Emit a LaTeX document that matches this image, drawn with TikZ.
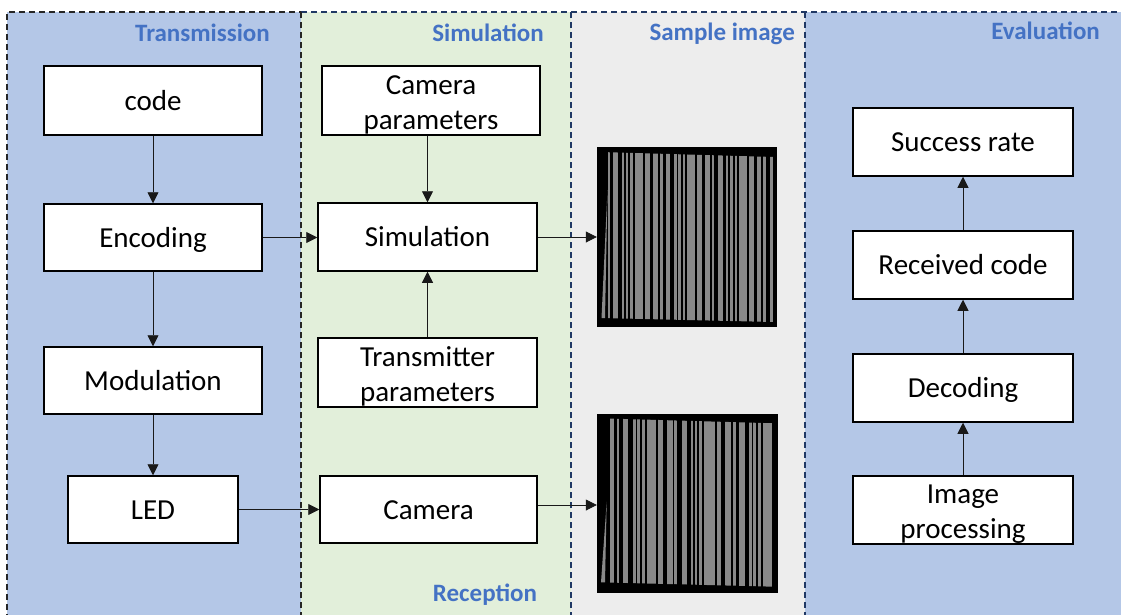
\documentclass[tikz,border=0pt]{standalone}
\usepackage{fontspec}
\setmainfont{Carlito}
\usetikzlibrary{arrows.meta}
\definecolor{panelblue}{HTML}{B4C7E7}
\definecolor{panelgreen}{HTML}{E2EFDA}
\definecolor{panelgray}{HTML}{EDEDED}
\definecolor{hdr}{HTML}{4472C4}
\definecolor{navy}{HTML}{203864}
\definecolor{bargray}{HTML}{898989}
\begin{document}
\begin{tikzpicture}[x=1pt,y=-1pt,
 box/.style={draw=black,fill=white,line width=1.5pt,align=center,font=\fontsize{29}{35}\selectfont,inner sep=0pt,text height=23.5pt,text depth=4pt},
 twoline/.style={text height=62.5pt,text depth=5pt},
 hdrtext/.style={text=hdr,font=\fontsize{25}{30}\selectfont\bfseries,inner sep=0pt,text height=18pt,text depth=0pt},
 arr/.style={-{Triangle[length=11pt,width=11pt]},line width=0.8pt,draw=black!90},
 nborder/.style={dash pattern=on 6pt off 4pt,line width=1.5pt,draw=navy},
 kborder/.style={dash pattern=on 6pt off 4pt,line width=1.2pt,draw=black!85},
 photo/.style={fill=black,inner sep=0pt,draw=none},
 bar/.style={fill=bargray}]
\useasboundingbox (0,0) rectangle (1121,615);
\clip (0,0) rectangle (1121,615);
% panels
\fill[panelblue] (7,12) rectangle (301,620);
\fill[panelgreen] (301,12) rectangle (571,620);
\fill[panelgray] (571,12) rectangle (805,620);
\fill[panelblue] (805,12) rectangle (1125,620);
\draw[nborder] (301,12) -- (1125,12);
\draw[nborder] (571,12) -- (571,620);
\draw[nborder] (805,12) -- (805,620);
\draw[kborder] (7,620) -- (7,12) -- (301,12);
\draw[kborder] (301,12) -- (301,620);
% headers
\node[hdrtext,anchor=east] (h1) at (270,33) {Transmission};
\node[hdrtext] (h2) at (488,33) {Simulation};
\node[hdrtext,anchor=east] (h3) at (795,32) {Sample image};
\node[hdrtext,anchor=east] (h4) at (1100,31) {Evaluation};
\node[hdrtext] (h5) at (485,592) {Reception};
% boxes
\node[box,minimum width=218pt,minimum height=69pt] (code) at (153,100.5) {code};
\node[box,minimum width=218pt,minimum height=67pt] (enc) at (153,237.5) {Encoding};
\node[box,minimum width=218pt,minimum height=67pt] (mod) at (153,380.5) {Modulation};
\node[box,minimum width=170pt,minimum height=67pt] (led) at (153,509.5) {LED};
\node[box,twoline,minimum width=218pt,minimum height=69pt] (campar) at (431,100.5) {Camera\\parameters};
\node[box,minimum width=219pt,minimum height=68pt] (sim) at (427.5,237) {Simulation};
\node[box,twoline,minimum width=219pt,minimum height=69pt] (trans) at (427.5,372.5) {Transmitter\\parameters};
\node[box,minimum width=217pt,minimum height=67pt] (cam) at (428.5,509.5) {Camera};
\node[box,minimum width=220pt,minimum height=68pt] (succ) at (963,142) {Success rate};
\node[box,minimum width=220pt,minimum height=68pt] (recv) at (963,265) {Received code};
\node[box,minimum width=220pt,minimum height=68pt] (dec) at (963,388) {Decoding};
\node[box,twoline,minimum width=220pt,minimum height=68pt] (imp) at (963,510) {Image\\processing};
% sample images
\node[photo,minimum width=180pt,minimum height=180pt] (img1) at (687,237) {};
\begin{scope}
\clip (600,152) -- (774,157) -- (774,322) -- (600,318) -- cycle;
\foreach \a/\b in {607.7/610,613.3/618.3,621.7/624,626/628.3,630/633.3,635/643.3,645/650,653.3/658.3,660/662.7,666/670,674/676.7,678.3/680.7,682.7/685,686.7/695,697.3/702,705.3/710,711.7/714.3,717.7/722.7,726/728.3,730/732.7,734.7/737.3,739/746.7,749.3/754,757.3/760.7,762.7/765.7,770/772.7}
  \fill[bar] (\a,140) rectangle (\b,330);
\end{scope}
\fill[bar] (601.5,318) -- (605,318) -- (607.5,190) -- cycle;
\node[photo,minimum width=181pt,minimum height=179pt] (img2) at (687.5,503.5) {};
\begin{scope}
\clip (600,418.3) -- (774,423.3) -- (774,586.7) -- (600,582.3) -- cycle;
\foreach \a/\b in {610/614.3,616.7/619.3,623.3/628.3,632.7/635.7,637.3/640,641.7/645,646.7/656,658.3/662.7,667.3/672.7,674.3/677.3,681.7/686.7,690.7/693.3,695/697.3,699/701.7,704.3/715,716.7/720.7,725/730.7,732.7/735.7,739.3/745,748.7/751.7,753.3/756,757.7/760.7,762.7/771.7}
  \fill[bar] (\a,410) rectangle (\b,595);
\end{scope}
\fill[bar] (601,582.3) -- (605,582.3) -- (606.7,501.7) -- cycle;
% arrows
\draw[arr] (code) -- (enc);
\draw[arr] (enc) -- (mod);
\draw[arr] (mod) -- (led);
\draw[arr] (enc.east) -- (enc.east -| sim.west);
\draw[arr] (led) -- (cam);
\draw[arr] (campar.south -| sim.north) -- (sim.north);
\draw[arr] (trans) -- (sim);
\draw[arr] (sim.east) -- (sim.east -| img1.west);
\draw[arr] ([yshift=4.5pt]cam.east) coordinate (c1) -- (c1 -| img2.west);
\draw[arr] (imp) -- (dec);
\draw[arr] (dec) -- (recv);
\draw[arr] (recv) -- (succ);
\end{tikzpicture}
\end{document}
